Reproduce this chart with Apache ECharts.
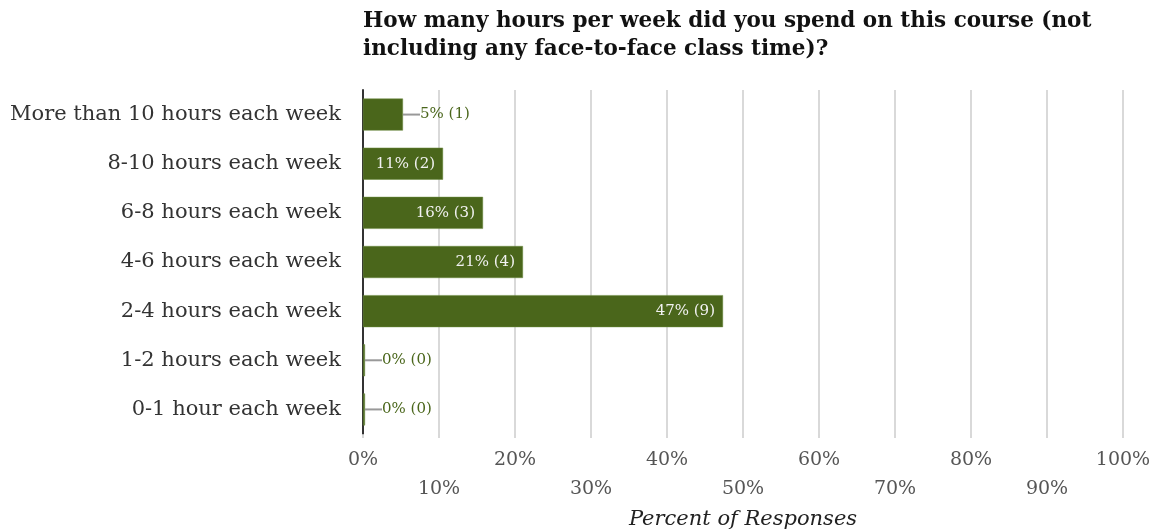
<!DOCTYPE html>
<html>
<head>
<meta charset="utf-8">
<script src="https://cdn.jsdelivr.net/npm/echarts@6/dist/echarts.min.js"></script>
<style>html,body{margin:0;padding:0;background:#fff}#c{width:1170px;height:532px}</style>
</head>
<body>
<div id="c"></div>
<script>
const categories = ["0-1 hour each week","1-2 hours each week","2-4 hours each week","4-6 hours each week","6-8 hours each week","8-10 hours each week","More than 10 hours each week"];
const percents = [0, 0, 47.37, 21.05, 15.79, 10.53, 5.26];
const counts = [0, 0, 9, 4, 3, 2, 1];
const titleText = "How many hours per week did you spend on this course (not\nincluding any face-to-face class time)?";
const axisName = "Percent of Responses";

const FONT = "DejaVu Serif";
const GREEN = "#4a661b";

const data = percents.map((v, i) => {
  const txt = Math.round(v) + "% (" + counts[i] + ")";
  const inside = v >= 8;
  return {
    value: v,
    label: inside ? {
      show: true, position: 'insideRight', distance: 8,
      color: '#f2f2f2', formatter: txt
    } : {
      show: true, position: 'right', distance: 0,
      formatter: '{l|}{t|' + txt + '}',
      rich: {
        l: {width: 17, height: 2, backgroundColor: '#999'},
        t: {color: '#4a661b', fontFamily: FONT, fontSize: 15}
      }
    }
  };
});

const chart = echarts.init(document.getElementById('c'));
chart.setOption({
  animation: false,
  title: {
    text: titleText, left: 358, top: 2,
    textStyle: {fontFamily: FONT, fontWeight: 'bold', fontSize: 21.5, color: '#111', lineHeight: 28}
  },
  grid: {left: 363, right: 47, top: 90, bottom: 98, outerBoundsMode: 'none', containLabel: false},
  xAxis: {
    type: 'value', min: 0, max: 100, interval: 10,
    axisLine: {show: false},
    axisTick: {show: true, length: 4, lineStyle: {color: '#ccc', width: 1.5}},
    splitLine: {show: true, lineStyle: {color: '#ccc', width: 1.5}},
    axisLabel: {
      fontFamily: FONT, fontSize: 19, color: '#555', margin: 12, lineHeight: 29,
      formatter: (v) => (Math.round(v / 10) % 2 === 1 ? '\n' : '') + v + '%'
    },
    name: axisName, nameLocation: 'middle', nameGap: 75,
    nameTextStyle: {fontFamily: FONT, fontSize: 21, fontStyle: 'italic', color: '#222'}
  },
  yAxis: {
    type: 'category', data: categories,
    axisLine: {show: true, lineStyle: {color: '#333', width: 2}},
    axisTick: {show: false},
    axisLabel: {fontFamily: FONT, fontSize: 21, color: '#333', margin: 22}
  },
  series: [{
    type: 'bar', data: data, barWidth: 32, barMinHeight: 2,
    itemStyle: {color: GREEN, borderColor: '#6b8a3e', borderWidth: 0.5},
    label: {fontFamily: FONT, fontSize: 15}
  }]
});
</script>
</body>
</html>
